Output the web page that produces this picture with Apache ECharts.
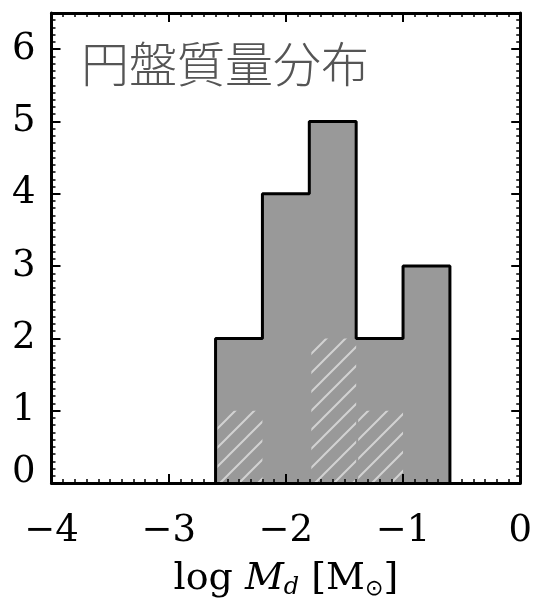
<!DOCTYPE html>
<html><head><meta charset="utf-8">
<script src="https://cdn.jsdelivr.net/npm/echarts@6/dist/echarts.min.js"></script>
<style>html,body{margin:0;padding:0;background:#fff}#c{width:535px;height:610px}</style>
</head><body><div id="c"></div>
<script>
// ---- data ----
const binEdges = [-2.6, -2.2, -1.8, -1.4, -1.0, -0.6];
const counts = [2, 4, 5, 2, 3];
const hatchCounts = [1, 0, 2, 1, 0];
const xTickLabels = [-4, -3, -2, -1, 0];
const yTickLabels = [0, 1, 2, 3, 4, 5, 6];
const titleText = '円盤質量分布';

// ---- build series data from arrays ----
const outline = [[binEdges[0], 0]];
counts.forEach((c, i) => { outline.push([binEdges[i], c]); outline.push([binEdges[i + 1], c]); });
outline.push([binEdges[binEdges.length - 1], 0]);
const hatchData = hatchCounts.map((h, i) => [binEdges[i], binEdges[i + 1], h]);

// hatch pattern
const tile = document.createElement('canvas');
tile.width = 19; tile.height = 19;
const g = tile.getContext('2d');
g.strokeStyle = '#d2d2d2'; g.lineWidth = 2;
g.beginPath();
g.moveTo(-2, 21); g.lineTo(21, -2);
g.moveTo(-2, 2); g.lineTo(2, -2);
g.moveTo(17, 21); g.lineTo(21, 17);
g.stroke();
const hatchFill = { image: tile, repeat: 'repeat' };

const SERIF = 'DejaVu Serif';
const fmtX = v => (v < 0 ? '\u2212' + Math.abs(v) : String(v));
const fmtY = v => (yTickLabels.indexOf(v) < 0 ? '' : (v === 0 ? '{z|0}' : '{n|' + v + '}'));

function mainAxisCommon(extra) {
  return Object.assign({
    type: 'value', z: 10,
    axisLine: { show: true, onZero: false, lineStyle: { color: '#000', width: 3 } },
    axisTick: { show: true, inside: true, length: 9, lineStyle: { color: '#000', width: 2 } },
    splitLine: { show: false }
  }, extra);
}
function minorAxis(extra) {
  return Object.assign({
    type: 'value', z: 10,
    axisLine: { show: false, onZero: false },
    axisTick: { show: true, inside: true, length: 4, lineStyle: { color: '#000', width: 1.5 } },
    axisLabel: { show: false }, splitLine: { show: false }
  }, extra);
}

const chart = echarts.init(document.getElementById('c'));
chart.setOption({
  animation: false,
  backgroundColor: '#fff',
  title: {
    text: titleText, left: 81, top: 40, padding: 0,
    textStyle: { fontFamily: 'Noto Sans CJK JP', fontSize: 48, fontWeight: 300, color: '#555' }
  },
  grid: { left: 51.5, right: 14, top: 13, bottom: 127 },
  xAxis: [
    mainAxisCommon({
      position: 'bottom', min: -4, max: 0, interval: 1,
      minorTick: { show: true, splitNumber: 10, length: 4, lineStyle: { color: '#000', width: 1.5 } },
      axisLabel: { margin: 30, fontFamily: SERIF, fontSize: 37, color: '#000', formatter: fmtX },
      name: '{a|log }{i|M}{s|d}{a| [M}{o|\u2299}{a|]}',
      nameLocation: 'middle', nameGap: 76,
      nameTextStyle: {
        rich: {
          a: { fontFamily: SERIF, fontSize: 38, color: '#000', verticalAlign: 'top', lineHeight: 40 },
          i: { fontFamily: SERIF, fontSize: 38, fontStyle: 'italic', color: '#000', verticalAlign: 'top', lineHeight: 40 },
          s: { fontFamily: SERIF, fontSize: 24, fontStyle: 'italic', color: '#000', verticalAlign: 'bottom', lineHeight: 24, padding: [21, 0, 0, 0] },
          o: { fontFamily: 'DejaVu Sans', fontSize: 22, color: '#000', verticalAlign: 'bottom', lineHeight: 24, padding: [21, 0, 0, 0] }
        }
      }
    }),
    mainAxisCommon({
      position: 'top', min: -4, max: 0, interval: 1,
      minorTick: { show: true, splitNumber: 10, length: 4, lineStyle: { color: '#000', width: 1.5 } },
      axisLabel: { show: false }
    })
  ],
  yAxis: [
    mainAxisCommon({
      position: 'left', min: 0, max: 6.5, interval: 1,
      axisLabel: {
        margin: 16, formatter: fmtY, showMaxLabel: false,
        rich: {
          n: { fontFamily: SERIF, fontSize: 37, color: '#000' },
          z: { fontFamily: SERIF, fontSize: 37, color: '#000', padding: [0, 0, 22, 0] }
        }
      }
    }),
    minorAxis({ position: 'left', min: 0, max: 6.5, interval: 0.1 }),
    mainAxisCommon({ position: 'right', min: 0, max: 6.5, interval: 1, axisLabel: { show: false } }),
    minorAxis({ position: 'right', min: 0, max: 6.5, interval: 0.1 })
  ],
  series: [
    {
      type: 'line', xAxisIndex: 0, yAxisIndex: 0, z: 2, silent: true,
      data: outline, symbol: 'none',
      lineStyle: { width: 0, opacity: 0 },
      areaStyle: { color: '#999999', opacity: 1 }
    },
    {
      type: 'custom', xAxisIndex: 0, yAxisIndex: 0, z: 3, silent: true,
      data: hatchData,
      renderItem: function (params, api) {
        const x0 = api.value(0), x1 = api.value(1), h = api.value(2);
        if (!h) return null;
        const p0 = api.coord([x0, h]);
        const p1 = api.coord([x1, 0]);
        return {
          type: 'rect',
          shape: { x: p0[0] + 2, y: p0[1], width: p1[0] - p0[0] - 2, height: p1[1] - p0[1] },
          style: { fill: hatchFill }
        };
      }
    },
    {
      type: 'line', xAxisIndex: 0, yAxisIndex: 0, z: 4, silent: true,
      data: outline, symbol: 'none',
      lineStyle: { color: '#000', width: 3 }
    }
  ]
});
</script></body></html>
